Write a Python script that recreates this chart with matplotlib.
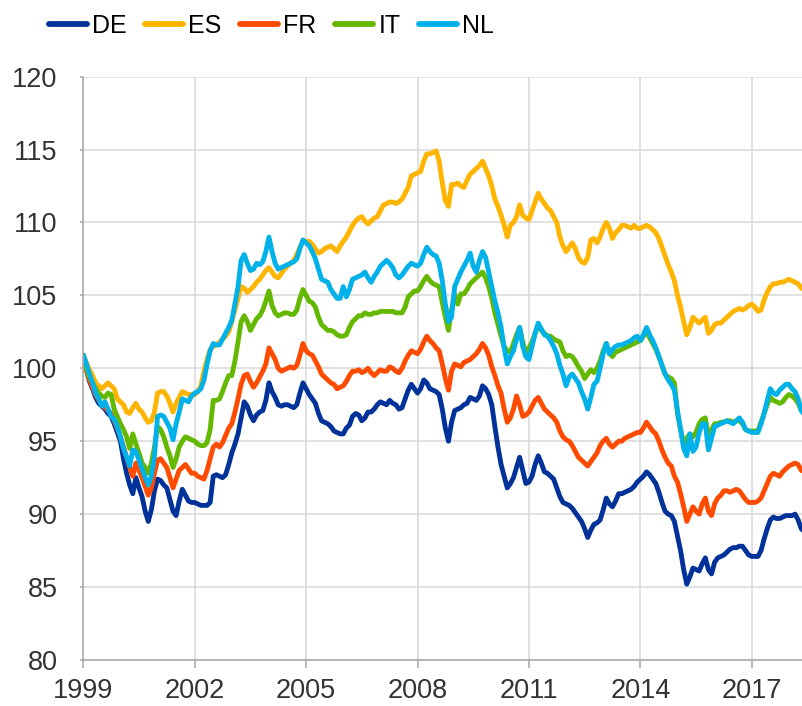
import matplotlib
matplotlib.use("Agg")
import matplotlib.pyplot as plt
import numpy as np

plt.rcParams["font.family"] = ["Liberation Sans", "DejaVu Sans"]

# monthly index values, Jan 1999 onwards (one row per year)
DE = [100.9, 99.9, 99.1, 98.6, 98.0, 97.6, 97.4, 97.2, 96.9, 96.7, 96.2, 95.6,
      95.0, 93.8, 92.8, 92.0, 91.4, 92.5, 91.8, 91.2, 90.2, 89.5, 90.3, 91.6,
      92.4, 92.3, 92.0, 91.8, 91.0, 90.2, 89.9, 90.9, 91.7, 91.3, 90.9, 90.8,
      90.8, 90.7, 90.6, 90.6, 90.6, 90.8, 92.6, 92.7, 92.6, 92.5, 92.7, 93.4,
      94.2, 94.8, 95.5, 96.6, 97.7, 97.4, 96.8, 96.4, 96.8, 97.0, 97.1, 97.8,
      99.0, 98.4, 98.0, 97.5, 97.4, 97.5, 97.5, 97.4, 97.3, 97.5, 98.3, 99.0,
      98.6, 98.2, 97.9, 97.6, 96.9, 96.4, 96.3, 96.2, 96.0, 95.7, 95.6, 95.5,
      95.5, 95.9, 96.1, 96.7, 96.9, 96.8, 96.4, 96.6, 97.0, 97.0, 97.2, 97.5,
      97.7, 97.6, 97.5, 97.8, 97.6, 97.5, 97.2, 97.3, 97.9, 98.5, 98.9, 98.6,
      98.3, 98.6, 99.2, 99.0, 98.6, 98.5, 98.4, 98.2, 97.2, 95.9, 95.0, 96.3,
      97.1, 97.2, 97.3, 97.5, 97.6, 98.0, 97.9, 97.8, 98.1, 98.8, 98.6, 98.2,
      97.5, 96.0, 94.6, 93.4, 92.6, 91.8, 92.1, 92.5, 93.2, 93.9, 93.0, 92.1,
      92.2, 92.6, 93.4, 94.0, 93.5, 92.9, 92.8, 92.6, 92.4, 91.8, 91.2, 90.8,
      90.7, 90.6, 90.4, 90.1, 89.8, 89.5, 89.0, 88.4, 88.9, 89.3, 89.4, 89.6,
      90.3, 91.1, 90.7, 90.5, 90.9, 91.4, 91.4, 91.5, 91.6, 91.7, 91.9, 92.2,
      92.4, 92.6, 92.9, 92.7, 92.4, 92.1, 91.5, 90.8, 90.2, 90.0, 89.9, 89.5,
      88.5, 87.5, 86.2, 85.2, 85.7, 86.3, 86.2, 86.1, 86.6, 87.0, 86.2, 85.9,
      86.7, 87.0, 87.1, 87.2, 87.4, 87.6, 87.7, 87.7, 87.8, 87.8, 87.5, 87.2,
      87.1, 87.1, 87.1, 87.5, 88.3, 89.0, 89.6, 89.8, 89.7, 89.7, 89.8, 89.9,
      89.9, 89.9, 90.0, 89.6, 89.0, 88.8]
ES = [100.9, 100.4, 99.9, 99.5, 99.0, 98.8, 98.6, 98.8, 99.0, 98.8, 98.6, 97.9,
      97.7, 97.5, 97.0, 96.9, 97.3, 97.6, 97.2, 97.0, 96.6, 96.3, 96.4, 97.0,
      98.3, 98.4, 98.4, 98.1, 97.6, 97.0, 97.6, 98.0, 98.4, 98.3, 98.2, 98.2,
      98.2, 98.4, 98.8, 99.8, 100.6, 101.3, 101.5, 101.6, 101.8, 102.0, 102.2, 102.5,
      103.2, 104.0, 104.8, 105.6, 105.5, 105.2, 105.4, 105.6, 105.9, 106.1, 106.4, 106.7,
      106.9, 106.6, 106.3, 106.2, 106.5, 106.8, 107.0, 107.2, 107.4, 107.8, 108.3, 108.7,
      108.7, 108.7, 108.5, 108.2, 107.9, 108.0, 108.2, 108.3, 108.4, 108.2, 108.0, 108.4,
      108.7, 109.0, 109.4, 109.8, 110.1, 110.3, 110.4, 110.1, 109.9, 110.1, 110.3, 110.4,
      110.8, 111.2, 111.3, 111.4, 111.4, 111.3, 111.4, 111.6, 112.0, 112.4, 113.2, 113.3,
      113.4, 113.5, 114.2, 114.7, 114.7, 114.8, 114.9, 114.2, 112.7, 111.5, 111.1, 112.6,
      112.6, 112.7, 112.5, 112.4, 112.9, 113.3, 113.5, 113.7, 113.9, 114.2, 113.7, 113.2,
      112.5, 111.6, 111.1, 110.5, 109.8, 109.0, 109.8, 110.0, 110.4, 111.2, 110.5, 110.3,
      110.2, 110.8, 111.4, 112.0, 111.6, 111.3, 111.0, 110.8, 110.4, 110.0, 109.0, 108.4,
      108.0, 108.3, 108.6, 108.2, 107.6, 107.3, 107.2, 107.6, 108.8, 108.9, 108.6, 109.0,
      109.6, 110.0, 109.6, 108.9, 109.3, 109.5, 109.8, 109.8, 109.7, 109.6, 109.8, 109.6,
      109.6, 109.7, 109.8, 109.7, 109.5, 109.3, 108.9, 108.3, 107.7, 107.1, 106.6, 106.0,
      105.0, 104.2, 103.2, 102.3, 102.8, 103.5, 103.3, 103.1, 103.3, 103.5, 102.4, 102.6,
      103.0, 103.1, 103.1, 103.3, 103.5, 103.7, 103.9, 104.0, 104.1, 104.0, 104.1, 104.3,
      104.4, 104.2, 103.9, 104.0, 104.7, 105.2, 105.6, 105.8, 105.8, 105.9, 105.9, 106.0,
      106.1, 106.0, 105.9, 105.8, 105.5, 105.4]
FR = [100.9, 99.9, 99.2, 98.7, 98.2, 97.8, 97.5, 97.3, 97.1, 96.9, 96.4, 95.9,
      95.3, 94.6, 93.9, 93.2, 92.6, 93.5, 93.0, 92.5, 91.9, 91.3, 91.8, 92.8,
      93.7, 93.8, 93.5, 93.2, 92.5, 91.8, 92.4, 93.0, 93.2, 93.4, 93.1, 92.8,
      92.8, 92.6, 92.5, 92.4, 93.0, 93.8, 94.6, 94.8, 94.6, 94.9, 95.4, 95.9,
      96.2, 97.0, 97.9, 98.9, 99.5, 99.6, 99.1, 98.7, 99.0, 99.4, 99.8, 100.3,
      101.4, 101.0, 100.6, 100.0, 99.8, 99.9, 100.0, 100.1, 100.0, 100.2, 100.9, 101.7,
      101.2, 101.0, 100.9, 100.5, 100.1, 99.6, 99.4, 99.2, 99.0, 98.9, 98.6, 98.7,
      98.8, 99.1, 99.5, 99.8, 99.8, 99.9, 99.7, 99.8, 100.0, 99.7, 99.5, 99.7,
      99.9, 99.8, 99.8, 100.1, 100.0, 99.8, 99.7, 100.0, 100.5, 100.9, 101.2, 101.1,
      101.0, 101.3, 101.8, 102.2, 101.9, 101.7, 101.4, 101.2, 100.3, 99.3, 98.5, 99.8,
      100.3, 100.2, 100.1, 100.4, 100.5, 100.6, 100.8, 101.0, 101.3, 101.7, 101.4, 100.9,
      100.1, 99.5, 98.8, 98.3, 97.2, 96.3, 96.6, 97.2, 98.1, 97.5, 96.7, 96.8,
      97.0, 97.4, 97.8, 98.0, 97.6, 97.2, 97.0, 96.8, 96.6, 96.3, 95.7, 95.3,
      95.1, 95.0, 94.7, 94.3, 93.9, 93.7, 93.5, 93.3, 93.6, 93.9, 94.2, 94.7,
      95.0, 95.2, 94.8, 94.6, 94.8, 95.0, 95.0, 95.2, 95.3, 95.4, 95.5, 95.6,
      95.6, 95.9, 96.3, 96.0, 95.7, 95.5, 95.0, 94.4, 93.9, 93.5, 93.3, 92.6,
      92.2, 91.4, 90.5, 89.5, 90.0, 90.5, 90.2, 90.0, 90.7, 91.1, 90.2, 89.9,
      90.7, 91.1, 91.3, 91.6, 91.6, 91.5, 91.6, 91.7, 91.6, 91.3, 91.0, 90.8,
      90.8, 90.8, 90.9, 91.1, 91.6, 92.1, 92.6, 92.8, 92.7, 92.6, 92.9, 93.1,
      93.3, 93.4, 93.5, 93.4, 93.0, 92.9]
IT = [100.9, 100.0, 99.4, 99.0, 98.6, 98.3, 98.1, 98.0, 98.3, 98.2, 97.2, 96.7,
      96.2, 95.8, 95.3, 94.5, 95.5, 94.8, 94.2, 93.5, 93.2, 92.8, 93.5, 94.6,
      96.0, 95.8, 95.3, 94.6, 94.0, 93.2, 93.8, 94.6, 95.0, 95.3, 95.2, 95.1,
      95.0, 94.8, 94.7, 94.7, 94.9, 95.8, 97.8, 97.8, 97.9, 98.4, 99.0, 99.5,
      99.5, 100.5, 101.8, 103.2, 103.6, 103.2, 102.6, 103.0, 103.4, 103.6, 104.0, 104.6,
      105.3, 104.3, 103.8, 103.6, 103.7, 103.8, 103.8, 103.7, 103.7, 104.0, 104.8, 105.4,
      105.0, 104.6, 104.5, 104.2, 103.5, 103.0, 102.8, 102.6, 102.6, 102.5, 102.3, 102.2,
      102.2, 102.3, 102.8, 103.2, 103.4, 103.6, 103.6, 103.8, 103.7, 103.7, 103.8, 103.8,
      103.9, 103.9, 103.9, 103.9, 103.9, 103.8, 103.8, 103.8, 104.2, 104.9, 105.1, 105.3,
      105.3, 105.6, 106.0, 106.3, 106.0, 105.8, 105.7, 105.6, 104.5, 103.5, 102.6, 104.0,
      105.1, 104.4, 105.1, 105.1, 105.4, 105.8, 106.0, 106.2, 106.4, 106.6, 106.2, 105.6,
      104.8, 103.8, 103.0, 102.2, 101.5, 101.2, 101.1, 101.7, 102.3, 102.8, 101.8, 101.0,
      101.4, 101.8, 102.4, 103.0, 102.6, 102.4, 102.2, 102.2, 102.0, 101.9, 101.8, 101.2,
      100.8, 100.9, 100.8, 100.5, 100.1, 99.8, 99.3, 99.6, 99.9, 99.7, 100.0, 100.5,
      101.2, 101.7, 101.0, 100.8, 101.1, 101.2, 101.3, 101.4, 101.5, 101.6, 101.7, 101.8,
      101.9, 102.2, 102.5, 102.1, 101.7, 101.3, 100.8, 100.2, 99.6, 99.4, 99.3, 99.0,
      96.9, 95.8, 94.8, 95.2, 95.5, 95.3, 95.6, 96.2, 96.5, 96.6, 95.3, 95.8,
      96.2, 96.2, 96.3, 96.3, 96.4, 96.4, 96.3, 96.4, 96.4, 96.2, 95.8, 95.7,
      95.7, 95.7, 95.7, 96.3, 96.9, 97.5, 98.0, 97.8, 97.7, 97.6, 97.7, 98.0,
      98.2, 98.1, 97.9, 97.6, 97.1, 97.0]
NL = [100.9, 100.3, 99.6, 99.0, 98.3, 97.9, 97.4, 97.7, 97.2, 96.7, 96.5, 96.0,
      95.3, 94.5, 93.9, 93.3, 94.4, 94.3, 93.7, 93.1, 92.5, 92.0, 92.6, 94.0,
      96.7, 96.8, 96.7, 96.3, 95.9, 95.1, 96.2, 97.0, 97.9, 97.8, 97.7, 98.1,
      98.3, 98.4, 98.6, 99.2, 100.3, 101.2, 101.7, 101.6, 101.6, 102.0, 102.4, 102.8,
      103.3, 104.4, 105.6, 107.4, 107.8, 107.2, 106.7, 106.8, 107.2, 107.1, 107.3, 108.0,
      109.0, 108.0, 107.2, 106.8, 106.9, 107.0, 107.1, 107.2, 107.3, 107.5, 108.2, 108.8,
      108.6, 108.4, 108.0, 107.5, 106.8, 106.1, 106.0, 105.9, 105.4, 105.1, 104.8, 104.8,
      105.6, 104.9, 105.4, 106.1, 106.2, 106.3, 106.4, 106.6, 106.2, 105.9, 106.3, 106.6,
      107.0, 107.2, 107.4, 107.2, 106.9, 106.4, 106.2, 106.4, 106.7, 107.0, 107.2, 107.1,
      107.0, 107.2, 107.8, 108.3, 108.0, 107.8, 107.7, 107.2, 106.0, 104.4, 103.2, 103.5,
      105.6, 106.1, 106.6, 107.0, 107.4, 107.9, 107.0, 106.6, 107.4, 108.0, 107.6, 106.6,
      105.6, 104.6, 103.8, 102.8, 101.4, 100.3, 100.8, 101.2, 102.0, 102.8, 101.5, 100.8,
      100.6, 101.5, 102.4, 103.1, 102.7, 102.3, 102.2, 101.9, 101.5, 101.0, 100.2, 99.6,
      98.8, 99.4, 99.6, 99.3, 99.0, 98.4, 97.9, 97.2, 98.0, 98.9, 99.1, 100.0,
      101.0, 101.7, 101.0, 101.3, 101.5, 101.6, 101.6, 101.7, 101.8, 101.9, 102.1, 102.2,
      101.9, 102.3, 102.8, 102.3, 101.9, 101.4, 100.8, 100.2, 99.6, 99.2, 98.9, 98.5,
      97.1, 95.8, 94.5, 94.0, 95.5, 94.3, 94.6, 95.6, 96.2, 96.2, 94.4, 95.2,
      96.0, 96.1, 96.2, 96.3, 96.4, 96.3, 96.2, 96.4, 96.6, 96.3, 95.8, 95.7,
      95.6, 95.6, 95.6, 96.2, 96.9, 97.8, 98.6, 98.3, 98.2, 98.5, 98.7, 98.9,
      98.9, 98.6, 98.4, 97.9, 97.1, 96.8]

labels = ["DE", "ES", "FR", "IT", "NL"]
colors = ["#003299", "#FFB400", "#FF4B00", "#65B800", "#00B1EA"]
series = [DE, ES, FR, IT, NL]
xticks = [1999, 2002, 2005, 2008, 2011, 2014, 2017]
yticks = [80, 85, 90, 95, 100, 105, 110, 115, 120]

fig = plt.figure(figsize=(8.03, 7.06), dpi=100)
ax = fig.add_axes([0.1037, 0.0652, 0.8963, 0.8263])

for vals, lab, c in zip(series, labels, colors):
    t = 1999 + np.arange(len(vals)) / 12.0
    ax.plot(t, vals, color=c, lw=3.5, label=lab, solid_capstyle="round")

ax.set_xlim(1999, 2018.38)
ax.set_ylim(80, 120)
ax.set_xticks(xticks)
ax.set_yticks(yticks)
ax.grid(True, color="#d9d9d9", lw=1.1)
ax.set_axisbelow(True)
for s in ["top", "right"]:
    ax.spines[s].set_visible(False)
for s in ["left", "bottom"]:
    ax.spines[s].set_color("#a6a6a6")
    ax.spines[s].set_linewidth(1.1)
ax.tick_params(axis="x", length=5.8, width=1.1, color="#a6a6a6", pad=7,
               labelsize=19.5, labelcolor="#333333")
ax.tick_params(axis="y", length=2.5, width=1.1, color="#a6a6a6", pad=16,
               labelsize=19.5, labelcolor="#333333")

# legend sits left of centre (the original figure was cropped on the right)
fig.legend(loc="center left", bbox_to_anchor=(0.061, 0.963), ncol=5,
           frameon=False, fontsize=18, handlelength=1.52, handletextpad=0.2,
           columnspacing=0.75, borderpad=0, borderaxespad=0)
for ln in fig.legends[0].get_lines():
    ln.set_linewidth(4.2)

fig.savefig("out.png", dpi=100)
